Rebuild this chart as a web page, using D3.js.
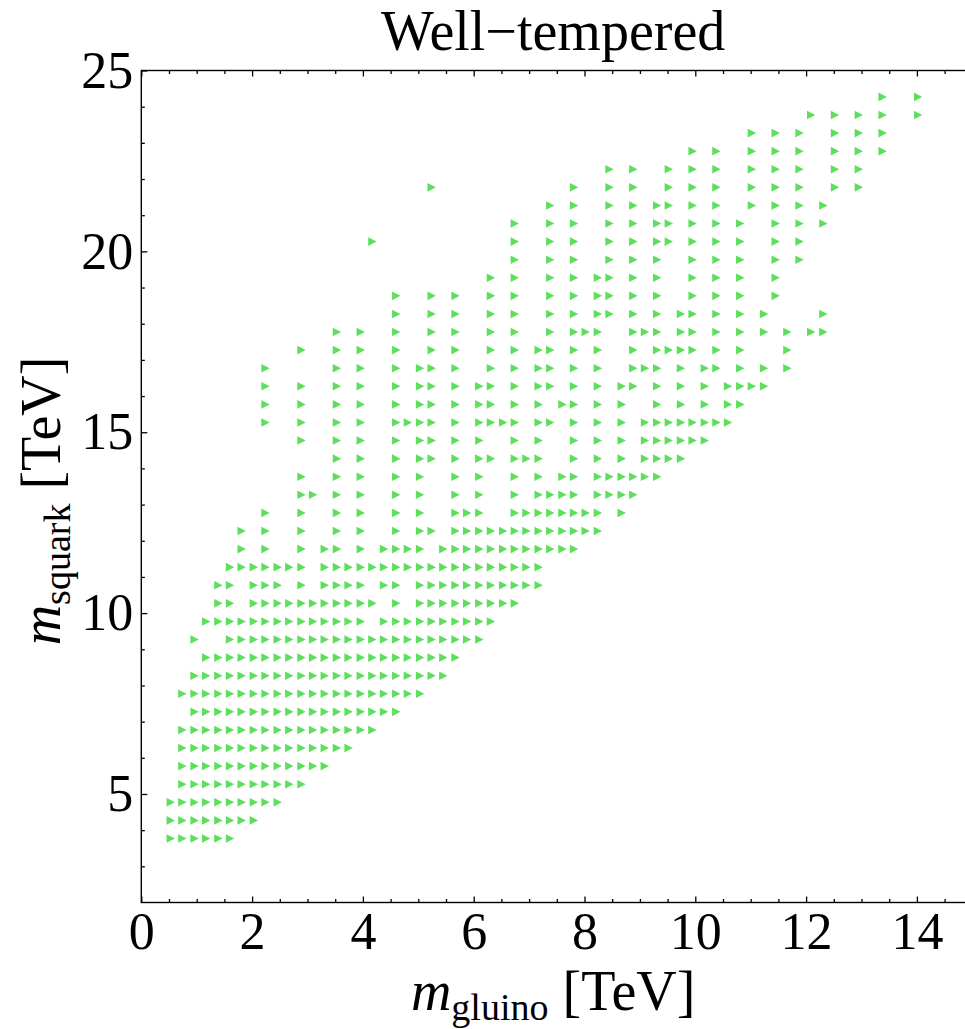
<!DOCTYPE html>
<html>
<head>
<meta charset="utf-8">
<script src="https://cdn.jsdelivr.net/npm/d3@7/dist/d3.min.js"></script>
<style>
  body { margin: 0; background: #ffffff; }
  svg { display: block; }
</style>
</head>
<body>
<svg id="chart" width="965" height="1029"></svg>
<script>
// Squark mass of each scan row (TeV)
const squarkRows = [
  3.77, 4.27, 4.77, 5.27, 5.77, 6.27, 6.77, 7.27, 7.77, 8.27,
  8.77, 9.27, 9.77, 10.27, 10.77, 11.27, 11.77, 12.27, 12.77, 13.27,
  13.77, 14.27, 14.77, 15.27, 15.77, 16.27, 16.77, 17.27, 17.77, 18.27,
  18.77, 19.27, 19.77, 20.27, 20.77, 21.27, 21.77, 22.27, 22.77, 23.27,
  23.77, 24.27
];

// Gluino masses (TeV) of the well-tempered points found in each row
const gluinoRows = [
  [0.53,0.74,0.96,1.17,1.39,1.60],
  [0.53,0.74,0.96,1.17,1.39,1.60,1.81,2.03],
  [0.53,0.74,0.96,1.17,1.39,1.60,1.81,2.03,2.24,2.46],
  [0.74,0.96,1.17,1.39,1.60,1.81,2.03,2.24,2.46,2.67,2.89],
  [0.74,0.96,1.17,1.39,1.60,1.81,2.03,2.24,2.46,2.67,2.89,3.10,3.31],
  [0.74,0.96,1.17,1.39,1.60,1.81,2.03,2.24,2.46,2.67,2.89,3.10,3.31,3.53,3.74],
  [0.74,0.96,1.17,1.39,1.60,1.81,2.03,2.24,2.46,2.67,2.89,3.10,3.31,3.53,3.74,3.96,4.17],
  [0.96,1.17,1.39,1.60,1.81,2.03,2.24,2.46,2.67,2.89,3.10,3.31,3.53,3.74,3.96,4.17,4.38,4.60],
  [0.74,0.96,1.17,1.39,1.60,1.81,2.03,2.24,2.46,2.67,2.89,3.10,3.31,3.53,3.74,3.96,4.17,4.38,4.60,4.81,5.03],
  [0.96,1.17,1.39,1.60,1.81,2.03,2.24,2.46,2.67,2.89,3.10,3.31,3.53,3.74,3.96,4.17,4.38,4.60,4.81,5.03,5.24,5.45],
  [1.17,1.39,1.60,1.81,2.03,2.24,2.46,2.67,2.89,3.10,3.31,3.53,3.74,3.96,4.17,4.38,4.60,4.81,5.03,5.24,5.45,5.67],
  [0.96,1.60,1.81,2.03,2.24,2.46,2.67,2.89,3.10,3.31,3.53,3.74,3.96,4.17,4.38,4.60,4.81,5.03,5.24,5.45,5.67,5.88,6.10],
  [1.17,1.39,1.60,1.81,2.03,2.24,2.46,2.67,2.89,3.10,3.31,3.53,3.74,3.96,4.38,4.60,4.81,5.03,5.24,5.45,5.67,5.88,6.10,6.31],
  [1.39,1.60,2.03,2.24,2.46,2.67,2.89,3.10,3.31,3.53,3.74,3.96,4.17,4.60,5.03,5.24,5.45,5.67,5.88,6.10,6.31,6.53,6.74],
  [1.39,1.60,2.03,2.24,2.46,2.89,3.31,3.53,3.74,3.96,4.38,4.60,5.03,5.24,5.45,5.67,5.88,6.10,6.31,6.53,6.74,6.95,7.17],
  [1.60,1.81,2.03,2.24,2.46,2.67,2.89,3.31,3.53,3.74,3.96,4.17,4.38,4.60,4.81,5.03,5.24,5.45,5.67,5.88,6.10,6.31,6.53,6.74,6.95,7.17],
  [1.81,2.24,2.89,3.31,3.53,3.96,4.38,4.60,4.81,5.03,5.45,5.67,5.88,6.10,6.31,6.53,6.74,6.95,7.17,7.38,7.60,7.81],
  [1.81,2.24,2.89,3.53,3.96,4.60,5.03,5.24,5.67,5.88,6.10,6.31,6.53,6.74,6.95,7.17,7.38,7.60,7.81,8.02,8.24],
  [2.24,2.89,3.53,3.96,4.60,5.03,5.67,5.88,6.10,6.74,6.95,7.17,7.38,7.60,7.81,8.02,8.24,8.67],
  [2.89,3.10,3.53,3.96,4.60,5.03,5.67,6.10,6.74,7.17,7.38,7.60,7.81,8.24,8.45,8.67,8.88],
  [2.89,3.53,3.96,4.60,5.03,5.67,6.10,6.74,7.17,7.60,7.81,8.24,8.45,8.67,8.88,9.09,9.31],
  [3.53,3.96,4.60,5.03,5.24,5.67,6.10,6.31,6.74,6.95,7.17,7.81,8.24,8.67,9.09,9.31,9.52,9.74],
  [2.89,3.53,3.96,4.60,5.03,5.24,5.67,6.10,6.74,7.17,7.81,8.24,8.67,9.09,9.31,9.52,9.74,9.95,10.17],
  [2.24,2.89,3.53,3.96,4.60,4.81,5.03,5.24,5.67,6.10,6.31,6.53,6.74,7.17,7.38,7.81,8.24,8.67,9.09,9.31,9.52,9.74,9.95,10.17,10.38,10.59],
  [2.24,2.89,3.53,3.96,4.60,5.03,5.24,5.67,6.10,6.31,6.74,7.17,7.60,7.81,8.24,8.67,9.31,9.74,10.17,10.59,10.81],
  [2.24,2.89,3.53,3.96,4.60,5.03,5.24,5.67,6.10,6.31,6.74,7.17,7.38,7.81,8.24,8.67,8.88,9.31,9.74,10.17,10.59,10.81,11.02,11.24],
  [2.24,3.53,3.96,4.60,5.03,5.24,5.67,6.31,6.74,7.17,7.38,7.81,8.24,8.88,9.09,9.31,9.74,10.17,10.38,10.81,11.24,11.66],
  [2.89,3.53,3.96,4.60,5.24,5.67,6.31,6.74,7.17,7.38,7.81,8.24,8.88,9.31,9.52,9.74,9.95,10.38,10.81,11.66],
  [3.53,3.96,4.60,5.24,5.67,6.31,6.74,7.38,7.81,8.02,8.24,8.88,9.09,9.31,9.74,9.95,10.38,10.81,11.24,11.66,12.09,12.31],
  [4.60,5.24,5.67,6.31,6.74,7.38,7.81,8.24,8.45,8.88,9.31,9.74,9.95,10.38,10.81,11.24,12.31],
  [4.60,5.24,5.67,6.31,6.74,7.38,7.81,8.24,8.45,8.88,9.31,9.95,10.38,10.81,11.45],
  [6.31,6.74,7.38,7.81,8.24,8.45,8.88,9.31,9.95,10.38,10.81,11.45],
  [6.74,7.38,7.81,8.45,8.88,9.31,9.95,10.38,10.81,11.45,11.88],
  [4.17,6.74,7.38,7.81,8.45,8.88,9.31,9.52,9.95,10.38,10.81,11.45,11.88],
  [6.74,7.38,7.81,8.45,8.88,9.31,9.52,9.95,10.38,10.81,11.45,11.88,12.31],
  [7.38,7.81,8.45,8.88,9.31,9.52,9.95,10.38,11.02,11.45,11.88,12.31],
  [5.24,7.81,8.45,8.88,9.52,9.95,10.38,11.02,11.45,11.88,12.52,12.95],
  [8.45,8.88,9.52,9.95,10.38,11.02,11.45,11.88,12.52,12.95],
  [9.95,10.38,11.02,11.45,11.88,12.52,12.95,13.38],
  [11.02,11.45,11.88,12.52,12.95,13.38],
  [12.09,12.52,12.95,13.38,14.02],
  [13.38,14.02]
];

const xMajorTicks = [0, 2, 4, 6, 8, 10, 12, 14];
const xMinorTicks = [0.5, 1, 1.5, 2.5, 3, 3.5, 4.5, 5, 5.5, 6.5, 7, 7.5, 8.5, 9, 9.5, 10.5, 11, 11.5, 12.5, 13, 13.5, 14.5];
const yMajorTicks = [5, 10, 15, 20, 25];
const yMinorTicks = [3, 4, 6, 7, 8, 9, 11, 12, 13, 14, 16, 17, 18, 19, 21, 22, 23, 24];

const titleText = "Well\u2212tempered";
const xLabel = { symbol: "m", sub: "gluino", unit: " [TeV]" };
const yLabel = { symbol: "m", sub: "squark", unit: " [TeV]" };

const points = [];
squarkRows.forEach((s, i) => {
  gluinoRows[i].forEach(g => points.push({ gluino: g, squark: s }));
});

const serif = "'Liberation Serif', 'Times New Roman', Times, serif";
const svg = d3.select("#chart");

const x = d3.scaleLinear().domain([0, 15]).range([141.3, 972.3]);
const y = d3.scaleLinear().domain([2, 25]).range([902.5, 70.5]);

const plotLeft = x.range()[0], plotRight = x.range()[1];
const plotTop = y.range()[1], plotBottom = y.range()[0];

// Points: right-pointing triangles
const tri = "M-4.1,-4.3L4.3,0L-4.1,4.3Z";
svg.append("g")
  .selectAll("path")
  .data(points)
  .join("path")
  .attr("d", tri)
  .attr("transform", d => `translate(${x(d.gluino)},${y(d.squark)})`)
  .attr("fill", "#5ddf5d");

// Frame lines
svg.append("rect")
  .attr("x", plotLeft).attr("y", plotTop)
  .attr("width", plotRight - plotLeft).attr("height", plotBottom - plotTop)
  .attr("fill", "none").attr("stroke", "#000").attr("stroke-width", 1.4);

function styleAxis(g) {
  g.attr("font-family", serif).attr("font-size", 52);
  g.select(".domain").remove();
  g.selectAll(".tick line").attr("stroke", "#000").attr("stroke-width", 1.3);
  g.selectAll(".tick text").attr("fill", "#000");
}

// Bottom axis, major and minor ticks pointing inward
svg.append("g").attr("transform", `translate(0,${plotBottom})`)
  .call(d3.axisBottom(x).tickValues(xMajorTicks).tickSize(-6).tickPadding(10).tickFormat(d3.format("d")))
  .call(styleAxis);
svg.append("g").attr("transform", `translate(0,${plotBottom})`)
  .call(d3.axisBottom(x).tickValues(xMinorTicks).tickSize(-3.5).tickFormat(""))
  .call(styleAxis);

// Top axis ticks
svg.append("g").attr("transform", `translate(0,${plotTop})`)
  .call(d3.axisTop(x).tickValues(xMajorTicks).tickSize(-6).tickFormat(""))
  .call(styleAxis);
svg.append("g").attr("transform", `translate(0,${plotTop})`)
  .call(d3.axisTop(x).tickValues(xMinorTicks).tickSize(-3.5).tickFormat(""))
  .call(styleAxis);

// Left axis
svg.append("g").attr("transform", `translate(${plotLeft},0)`)
  .call(d3.axisLeft(y).tickValues(yMajorTicks).tickSize(-6).tickPadding(8).tickFormat(d3.format("d")))
  .call(styleAxis);
svg.append("g").attr("transform", `translate(${plotLeft},0)`)
  .call(d3.axisLeft(y).tickValues(yMinorTicks).tickSize(-3.5).tickFormat(""))
  .call(styleAxis);

// Title
svg.append("text")
  .attr("x", (plotLeft + 965) / 2).attr("y", 50)
  .attr("text-anchor", "middle")
  .attr("font-family", serif).attr("font-size", 56)
  .text(titleText);

function axisLabel(sel, lab) {
  sel.attr("font-family", serif).attr("font-size", 56).attr("text-anchor", "middle").attr("fill", "#000");
  sel.append("tspan").attr("font-style", "italic").text(lab.symbol);
  sel.append("tspan").attr("font-size", 38).attr("dy", 10).text(lab.sub);
  sel.append("tspan").attr("dy", -10).text(lab.unit);
}

svg.append("text")
  .attr("x", (plotLeft + 965) / 2).attr("y", 1010)
  .call(axisLabel, xLabel);

svg.append("text")
  .attr("transform", `translate(60,501) rotate(-90)`)
  .call(axisLabel, yLabel);
</script>
</body>
</html>
